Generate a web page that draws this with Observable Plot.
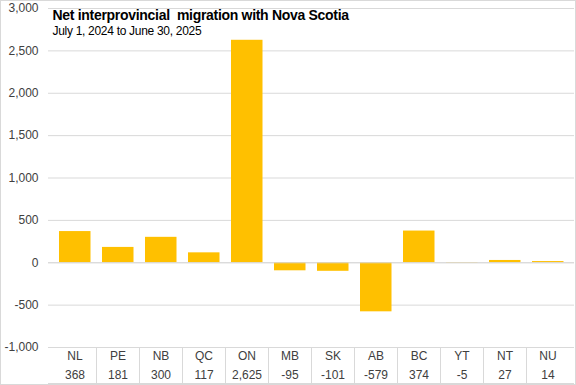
<!DOCTYPE html>
<html>
<head>
<meta charset="utf-8">
<script src="https://cdn.jsdelivr.net/npm/d3@7"></script>
<script src="https://cdn.jsdelivr.net/npm/@observablehq/plot@0.6"></script>
<style>
  html, body { margin: 0; padding: 0; background: #fff; }
  #wrap { position: relative; width: 576px; height: 385px; }
  #border { position: absolute; left: 0; top: 0; width: 576px; height: 385px; box-sizing: border-box; border: 1px solid #d9d9d9; pointer-events: none; }
</style>
</head>
<body>
<div id="wrap"><div id="border"></div></div>
<script>
const provinces = ["NL", "PE", "NB", "QC", "ON", "MB", "SK", "AB", "BC", "YT", "NT", "NU"];
const migration = [368, 181, 300, 117, 2625, -95, -101, -579, 374, -5, 27, 14];
const yTicks = [-1000, -500, 0, 500, 1000, 1500, 2000, 2500, 3000];
const title = "Net interprovincial  migration with Nova Scotia";
const subtitle = "July 1, 2024 to June 30, 2025";

const data = provinces.map((p, i) => ({province: p, value: migration[i]}));
const locale = d3.formatLocale({decimal: ".", thousands: ",", grouping: [3], currency: ["$", ""], minus: "-"});
const fmt = locale.format(",");
const font = "'Liberation Sans', Arial, sans-serif";

const separators = (index, scales, values, dimensions) => {
  const g = d3.create("svg:g").attr("stroke", "#d9d9d9").attr("stroke-width", 1);
  const yTop = dimensions.height - dimensions.marginBottom;
  provinces.slice(1).forEach(p => {
    const x = Math.round(scales.x(p)) + 0.5;
    g.append("line").attr("x1", x).attr("x2", x).attr("y1", yTop).attr("y2", dimensions.height - 1);
  });
  g.append("line")
    .attr("x1", dimensions.marginLeft).attr("x2", dimensions.width - dimensions.marginRight)
    .attr("y1", dimensions.height - 1.5).attr("y2", dimensions.height - 1.5);
  return g.node();
};

const plot = Plot.plot({
  width: 576,
  height: 385,
  marginLeft: 48,
  marginRight: 2,
  marginTop: 8,
  marginBottom: 38,
  style: {fontFamily: font, fontSize: "12px", color: "#404040", background: "transparent"},
  x: {domain: provinces, padding: 0, axis: null},
  y: {domain: [-1000, 3000], ticks: yTicks, tickFormat: fmt, label: null, tickSize: 0, tickPadding: 10},
  marks: [
    Plot.gridY(yTicks, {stroke: "#d9d9d9", strokeOpacity: 1}),
    Plot.axisY(yTicks, {tickSize: 0, tickPadding: 10, tickFormat: fmt, label: null, fill: "#404040", fontSize: 12}),
    Plot.barY(data, {x: "province", y: "value", fill: "#FFC000", insetLeft: 6, insetRight: 5.5}),
    Plot.ruleY([0], {stroke: "#d9d9d9"}),
    separators,
    Plot.text(data, {x: "province", text: "province", frameAnchor: "bottom", dy: 12.5, fill: "#404040", fontSize: 12}),
    Plot.text(data, {x: "province", text: d => fmt(d.value), frameAnchor: "bottom", dy: 31, fill: "#404040", fontSize: 12}),
    Plot.text([title], {text: d => d, frameAnchor: "top-left", lineAnchor: "bottom", dx: 4, dy: 11.5, textAnchor: "start", fontWeight: "bold", fontSize: 14, fill: "#000"}),
    Plot.text([subtitle], {text: d => d, frameAnchor: "top-left", lineAnchor: "bottom", dx: 4, dy: 26, textAnchor: "start", fontSize: 12, fill: "#000"})
  ]
});
plot.querySelectorAll("text").forEach(t => {
  if (t.textContent === title) t.setAttribute("letter-spacing", "-0.3");
  if (t.textContent === subtitle) t.setAttribute("letter-spacing", "-0.3");
});
document.getElementById("wrap").prepend(plot);
</script>
</body>
</html>
